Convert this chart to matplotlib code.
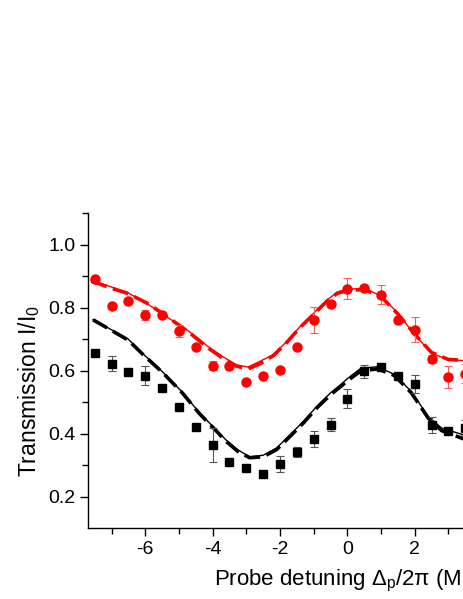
import matplotlib
matplotlib.use('Agg')
import matplotlib.pyplot as plt
import numpy as np

plt.rcParams['font.family'] = ['Liberation Sans', 'DejaVu Sans']
plt.rcParams['mathtext.fontset'] = 'custom'
plt.rcParams['mathtext.rm'] = 'Liberation Sans'
plt.rcParams['mathtext.it'] = 'Liberation Sans:italic'
plt.rcParams['mathtext.sf'] = 'Liberation Sans'
plt.rcParams['axes.unicode_minus'] = False

# Messdaten (Punkte) - rot: Kreise, schwarz: Quadrate
det = [-7.5, -7.0, -6.5, -6.0, -5.5, -5.0, -4.5, -4.0, -3.5, -3.0, -2.5, -2.0,
       -1.5, -1.0, -0.5, 0.0, 0.5, 1.0, 1.5, 2.0, 2.5, 3.0, 3.5]
red_y = [0.892, 0.806, 0.823, 0.778, 0.778, 0.727, 0.677, 0.616, 0.616, 0.564, 0.585, 0.604,
         0.677, 0.761, 0.812, 0.861, 0.863, 0.841, 0.761, 0.730, 0.637, 0.579, 0.590]
red_err = [0.004, 0.004, 0.006, 0.016, 0.005, 0.019, 0.004, 0.015, 0.004, 0.003, 0.003, 0.003,
           0.004, 0.040, 0.005, 0.033, 0.006, 0.030, 0.005, 0.040, 0.012, 0.035, 0.030]
black_y = [0.656, 0.622, 0.595, 0.585, 0.546, 0.485, 0.423, 0.364, 0.309, 0.291, 0.272, 0.304,
           0.342, 0.384, 0.429, 0.512, 0.598, 0.612, 0.584, 0.558, 0.429, 0.410, 0.420]
black_err = [0.004, 0.024, 0.013, 0.031, 0.004, 0.004, 0.004, 0.054, 0.003, 0.003, 0.003, 0.026,
             0.016, 0.026, 0.021, 0.030, 0.020, 0.006, 0.004, 0.029, 0.025, 0.006, 0.025]

# Theoriekurven
fit_red_x = [-7.6, -7.0, -6.5, -5.9, -5.3, -4.7, -4.1, -3.7, -3.3, -2.95, -2.6, -2.2, -1.8,
             -1.4, -1.0, -0.6, -0.3, 0.0, 0.5, 1.0, 1.5, 2.0, 2.5, 3.0, 3.5, 4.0]
fit_red_solid = [0.887, 0.866, 0.847, 0.810, 0.767, 0.725, 0.674, 0.645, 0.619, 0.612, 0.630,
                 0.651, 0.693, 0.741, 0.783, 0.825, 0.850, 0.859, 0.862, 0.838, 0.783, 0.714,
                 0.656, 0.635, 0.632, 0.640]
fit_red_dash = [0.885, 0.862, 0.845, 0.812, 0.768, 0.722, 0.670, 0.640, 0.615, 0.606, 0.622,
                0.648, 0.690, 0.738, 0.780, 0.822, 0.846, 0.855, 0.858, 0.836, 0.780, 0.716,
                0.658, 0.636, 0.633, 0.640]
fit_blk_x = [-7.55, -7.0, -6.5, -6.1, -5.5, -4.9, -4.4, -3.9, -3.6, -3.25, -2.9, -2.5, -2.1,
             -1.7, -1.3, -0.9, -0.5, -0.2, 0.0, 0.4, 0.9, 1.4, 1.9, 2.4, 2.8, 3.5, 4.0]
fit_blk_solid = [0.762, 0.730, 0.700, 0.657, 0.598, 0.532, 0.468, 0.413, 0.380, 0.349, 0.327,
                 0.332, 0.355, 0.397, 0.440, 0.488, 0.530, 0.556, 0.575, 0.608, 0.613, 0.588,
                 0.534, 0.455, 0.418, 0.395, 0.390]
fit_blk_dash = [0.762, 0.728, 0.697, 0.655, 0.596, 0.530, 0.465, 0.410, 0.376, 0.344, 0.324,
                0.327, 0.350, 0.392, 0.435, 0.483, 0.524, 0.550, 0.568, 0.600, 0.606, 0.585,
                0.530, 0.450, 0.410, 0.382, 0.378]

xtick_vals = [-6, -4, -2, 0, 2]
ytick_vals = [0.2, 0.4, 0.6, 0.8, 1.0]

fig = plt.figure(figsize=(4.63, 5.99), dpi=100)
# Achse ragt rechts aus dem Bild heraus (wie im Original abgeschnitten)
ax = fig.add_axes([88 / 463, 1 - 528.3 / 599, 512 / 463, 315 / 599])

ax.plot(fit_red_x, fit_red_dash, color='red', lw=2.6, dashes=(4.5, 1.8))
ax.plot(fit_red_x, fit_red_solid, color='red', lw=1.0)
ax.plot(fit_blk_x, fit_blk_dash, color='black', lw=2.6, dashes=(4.5, 1.8))
ax.plot(fit_blk_x, fit_blk_solid, color='black', lw=1.0)

ax.errorbar(det, red_y, yerr=red_err, fmt='o', color='red', ms=6.5, mec='red',
            ecolor='#f06060', elinewidth=0.8, capsize=3, capthick=0.8, zorder=5)
ax.errorbar(det, black_y, yerr=black_err, fmt='s', color='black', ms=5.5,
            ecolor='#555555', elinewidth=0.8, capsize=3, capthick=0.8, zorder=5)

ax.set_xlim(-7.7, 7.5)
ax.set_ylim(0.1, 1.1)
ax.set_xticks(xtick_vals)
ax.set_xticks(np.arange(-7, 4, 2), minor=True)
ax.set_yticks(ytick_vals)
ax.set_yticks([0.3, 0.5, 0.7, 0.9, 1.1], minor=True)
ax.set_yticklabels(['%.1f' % v for v in ytick_vals])

ax.spines['top'].set_visible(False)
ax.spines['right'].set_visible(False)
ax.spines['left'].set_linewidth(1.0)
ax.spines['bottom'].set_linewidth(1.0)
ax.tick_params(which='major', direction='out', length=6, width=1.0, labelsize=14, pad=3)
ax.tick_params(which='minor', direction='out', length=4, width=1.0)

ax.set_xlabel(r'Probe detuning $\Delta_\mathrm{p}$/2π (MHz)', fontsize=16)
ax.xaxis.set_label_coords(355 / 463, (599 - 568) / 599, transform=fig.transFigure)
ax.set_ylabel(r'Transmission I/I$_\mathrm{0}$', fontsize=16.5)
ax.yaxis.set_label_coords(42 / 463, (599 - 391) / 599, transform=fig.transFigure)

fig.savefig('out.png', dpi=100)
